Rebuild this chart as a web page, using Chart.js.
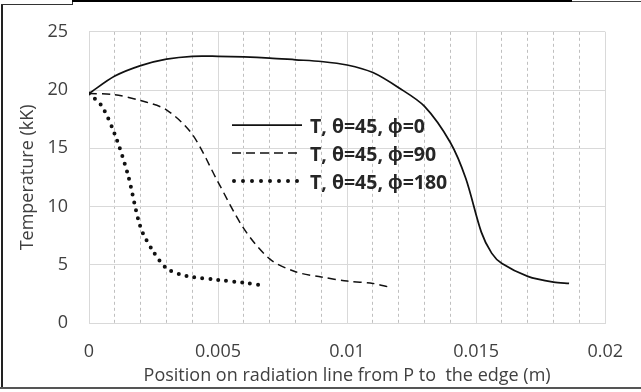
<!DOCTYPE html>
<html>
<head>
<meta charset="utf-8">
<script src="https://cdn.jsdelivr.net/npm/chart.js@4/dist/chart.umd.min.js"></script>
<style>
  html, body { margin: 0; padding: 0; background: #fff; }
  #wrap { position: relative; width: 641px; height: 392px; overflow: hidden; background: #fff; }
  .edge { position: absolute; }
  #legend { position: absolute; left: 232px; top: 111px; font-family: 'Open Sans', sans-serif;
            font-weight: bold; font-size: 19.5px; color: #262626; }
  #legend .row { display: flex; align-items: center; height: 28px; white-space: nowrap; }
  #legend svg { width: 70px; height: 10px; margin-right: 8px; }
</style>
</head>
<body>
<div id="wrap">
  <canvas id="chart"></canvas>
  <div id="legend"></div>
  <!-- frame left over from the crop -->
  <div class="edge" style="left:1px;top:4px;width:2px;height:385px;background:#222"></div>
  <div class="edge" style="left:0;top:387px;width:641px;height:2px;background:#555"></div>
  <div class="edge" style="left:1px;top:4px;width:72px;height:1px;background:#333"></div>
  <div class="edge" style="left:72px;top:0;width:1px;height:5px;background:#333"></div>
  <div class="edge" style="left:72px;top:0;width:500px;height:2px;background:#000"></div>
  <div class="edge" style="left:572px;top:1px;width:69px;height:1px;background:#444"></div>
</div>
<script>
// ── DATA ─────────────────────────────────────────────────────
const seriesLabels = ['T, θ=45, ϕ=0', 'T, θ=45, ϕ=90', 'T, θ=45, ϕ=180'];

const posPhi0  = [0, 0.001, 0.002, 0.003, 0.004, 0.005, 0.006, 0.007, 0.008, 0.009, 0.010,
                  0.011, 0.012, 0.013, 0.014, 0.0146, 0.0152, 0.0156,
                  0.016, 0.017, 0.018, 0.0186];
const tempPhi0 = [19.7, 21.2, 22.1, 22.65, 22.9, 22.9, 22.85, 22.75, 22.6, 22.45, 22.15,
                  21.5, 20.2, 18.6, 15.5, 12.4, 7.8, 6.0,
                  5.1, 4.0, 3.5, 3.4];

const posPhi90  = [0, 0.001, 0.002, 0.003, 0.004, 0.005, 0.006,
                   0.007, 0.008, 0.009, 0.010, 0.011, 0.0116];
const tempPhi90 = [19.7, 19.6, 19.1, 18.3, 16.2, 12.1, 8.1,
                   5.5, 4.4, 3.95, 3.6, 3.4, 3.1];

const posPhi180  = [0, 0.0005, 0.001, 0.0015, 0.002, 0.0025,
                    0.003, 0.0035, 0.004, 0.005, 0.006, 0.0068];
const tempPhi180 = [19.7, 18.6, 16.2, 12.8, 8.2, 6.1,
                    4.7, 4.2, 3.95, 3.7, 3.45, 3.2];

const xTicksMajor = [0, 0.005, 0.01, 0.015, 0.02];
const yTicks      = [0, 5, 10, 15, 20, 25];

// ── STYLE ────────────────────────────────────────────────────
const INK   = '#111';
const TEXT  = '#404040';
const GRID  = '#d9d9d9';
const MINOR = '#bfbfbf';
const FONT  = "'Open Sans', sans-serif";

const lineStyles = [
  { width: 1.75, dash: [],     cap: 'butt'  },
  { width: 1.5,  dash: [8, 5], cap: 'butt'  },
  { width: 4,    dash: [0, 8], cap: 'round' },
];

const toPoints = (xs, ys) => xs.map((x, i) => ({ x, y: ys[i] }));
const isMajor = v => xTicksMajor.some(m => Math.abs(m - v) < 1e-7);

const seriesData = [
  toPoints(posPhi0, tempPhi0),
  toPoints(posPhi90, tempPhi90),
  toPoints(posPhi180, tempPhi180),
];

// ── LEGEND (html, placed inside the plot like the original) ──
const legend = document.getElementById('legend');
seriesLabels.forEach((label, i) => {
  const s = lineStyles[i];
  const row = document.createElement('div');
  row.className = 'row';
  row.innerHTML =
    `<svg viewBox="0 0 70 10"><line x1="${s.cap === 'round' ? 2 : 0}" y1="5" x2="70" y2="5" stroke="${INK}"
      stroke-width="${s.width}" stroke-linecap="${s.cap}"
      ${s.dash.length ? `stroke-dasharray="${s.cap === 'round' ? '0 9' : '9 5'}"` : ''}/></svg>` +
    `<span></span>`;
  row.querySelector('span').textContent = label;
  legend.appendChild(row);
});

// ── CHART ────────────────────────────────────────────────────
new Chart(document.getElementById('chart'), {
  type: 'line',
  data: {
    datasets: seriesData.map((d, i) => ({
      label: seriesLabels[i],
      data: d,
      borderColor: INK,
      borderWidth: lineStyles[i].width,
      borderDash: lineStyles[i].dash,
      borderCapStyle: lineStyles[i].cap,
      tension: 0.3,
      pointRadius: 0,
      fill: false,
    })),
  },
  options: {
    responsive: true,
    maintainAspectRatio: false,
    animation: false,
    layout: { padding: { left: 0, right: 32, top: 22, bottom: 0 } },
    plugins: { legend: { display: false }, tooltip: { enabled: false } },
    scales: {
      x: {
        type: 'linear',
        min: 0,
        max: 0.02,
        afterFit: s => { s.height = 69; },
        ticks: {
          stepSize: 0.001,
          autoSkip: false,
          maxRotation: 0,
          padding: 18,
          color: TEXT,
          font: { family: FONT, size: 18 },
          callback: v => isMajor(v) ? String(+v.toFixed(3)) : '',
        },
        grid: {
          drawTicks: false,
          color: ctx => (ctx.tick && !isMajor(ctx.tick.value)) ? MINOR : GRID,
          lineWidth: 1,
        },
        border: {
          color: GRID,
          dash: ctx => (ctx.tick && !isMajor(ctx.tick.value)) ? [3, 3] : [],
        },
        title: {
          display: true,
          text: 'Position on radiation line from P to  the edge (m)',
          color: TEXT,
          font: { family: FONT, size: 18 },
          padding: { top: 0, bottom: 5 },
        },
      },
      y: {
        min: 0,
        max: 25,
        afterFit: s => { s.width = 89; },
        afterBuildTicks: s => { s.ticks = yTicks.map(v => ({ value: v })); },
        ticks: {
          padding: 21,
          color: TEXT,
          font: { family: FONT, size: 18 },
        },
        grid: { drawTicks: false, color: GRID, lineWidth: 1 },
        border: { color: GRID },
        title: {
          display: true,
          text: 'Temperature (kK)',
          color: TEXT,
          font: { family: FONT, size: 18 },
          padding: { top: 17, bottom: 0 },
        },
      },
    },
  },
});
</script>
</body>
</html>
